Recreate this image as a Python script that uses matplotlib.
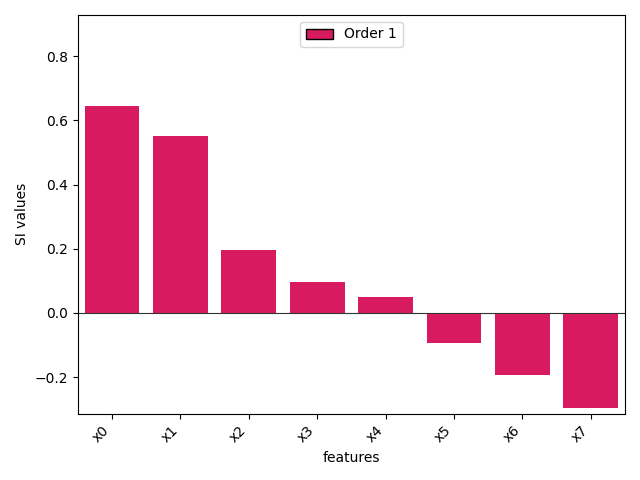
import numpy as np
import matplotlib.pyplot as plt

features = ['x0', 'x1', 'x2', 'x3', 'x4', 'x5', 'x6', 'x7']
si_values = [0.644, 0.551, 0.196, 0.096, 0.049, -0.094, -0.194, -0.296]

fig, ax = plt.subplots(figsize=(6.4, 4.8), dpi=100)

pos = np.arange(len(features))
ax.bar(pos, si_values, width=0.8, color='#D81B60', label='Order 1')
ax.axhline(0, color='#333333', linewidth=0.8)

ax.set_xticks(pos)
ax.set_xticklabels(features, rotation=45, ha='right')
ax.set_xlim(-0.5, len(features) - 0.5)
ax.set_ylim(-0.314, 0.928)
ax.set_xlabel('features')
ax.set_ylabel('SI values')

leg = ax.legend(loc='upper center')
for h in leg.legend_handles:
    h.set_edgecolor('black')

fig.tight_layout()
fig.savefig('out.png')
